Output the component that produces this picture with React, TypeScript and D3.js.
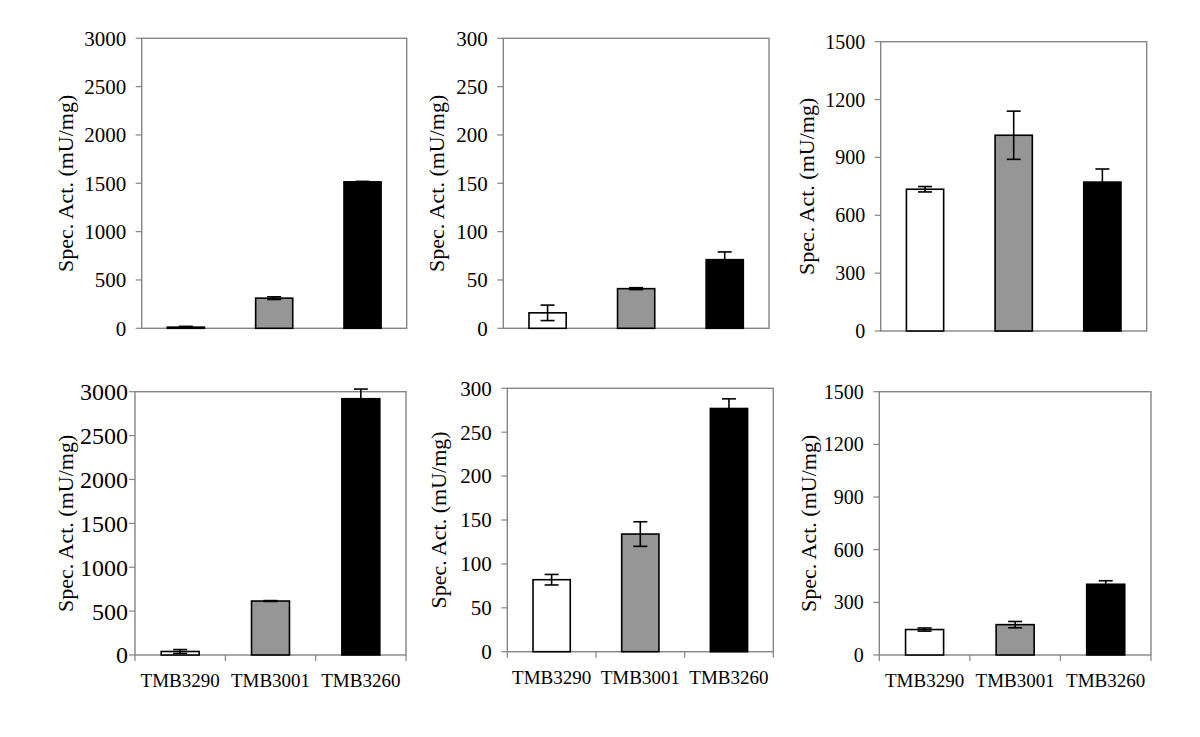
import React from "react";
import * as d3 from "d3";

const strains = ["TMB3290", "TMB3001", "TMB3260"];

const p1Values = [12, 312, 1515];
const p1Errors = [8, 14, 5];
const p2Values = [16, 41, 71];
const p2Errors = [8, 1, 8];
const p3Values = [735, 1015, 772];
const p3Errors = [14, 125, 68];
const p4Values = [40, 615, 2920];
const p4Errors = [22, 5, 110];
const p5Values = [82, 134, 277];
const p5Errors = [6, 14, 11];
const p6Values = [145, 173, 403];
const p6Errors = [9, 18, 20];

const ticks3000 = [0, 500, 1000, 1500, 2000, 2500, 3000];
const ticks300 = [0, 50, 100, 150, 200, 250, 300];
const ticks1500 = [0, 300, 600, 900, 1200, 1500];

const yTitle = "Spec. Act. (mU/mg)";

const barFills = ["#ffffff", "#969696", "#000000"];
const FONT = "'Liberation Serif', 'Times New Roman', 'DejaVu Serif', serif";

type PanelSpec = {
  values: number[];
  errors: number[];
  ticks: number[];
  left: number;
  right: number;
  top: number;
  bottom: number;
  tickFont: number;
  titleX: number;
  showX: boolean;
  labelY: number;
};

const panels: PanelSpec[] = [
  { values: p1Values, errors: p1Errors, ticks: ticks3000, left: 141.7, right: 406.7, top: 38.3, bottom: 328.3, tickFont: 21, titleX: 65, showX: false, labelY: 0 },
  { values: p2Values, errors: p2Errors, ticks: ticks300, left: 503.3, right: 769, top: 38.3, bottom: 328.3, tickFont: 21, titleX: 436, showX: false, labelY: 0 },
  { values: p3Values, errors: p3Errors, ticks: ticks1500, left: 880.7, right: 1146.7, top: 41.7, bottom: 331, tickFont: 20, titleX: 806, showX: false, labelY: 0 },
  { values: p4Values, errors: p4Errors, ticks: ticks3000, left: 135, right: 406, top: 391.7, bottom: 655, tickFont: 24, titleX: 65, showX: true, labelY: 687 },
  { values: p5Values, errors: p5Errors, ticks: ticks300, left: 507.3, right: 773.3, top: 388.3, bottom: 651.7, tickFont: 21, titleX: 438, showX: true, labelY: 684 },
  { values: p6Values, errors: p6Errors, ticks: ticks1500, left: 879.3, right: 1151, top: 391.7, bottom: 655, tickFont: 20, titleX: 808, showX: true, labelY: 687 },
];

function Panel({ p }: { p: PanelSpec }) {
  const x = d3
    .scaleBand<string>()
    .domain(strains)
    .range([p.left, p.right])
    .paddingInner(0.58)
    .paddingOuter(0.29);
  const y = d3
    .scaleLinear()
    .domain([0, p.ticks[p.ticks.length - 1]])
    .range([p.bottom, p.top]);
  const step = (p.right - p.left) / strains.length;
  const boundaries = d3.range(strains.length + 1).map((i) => p.left + i * step);
  const frame = "#858585";
  const capW = 14;
  const cy = (p.top + p.bottom) / 2;
  const gap = p.tickFont > 22 ? 7 : 15.5;
  return (
    <g>
      <rect x={p.left} y={p.top} width={p.right - p.left} height={p.bottom - p.top} fill="#fff" stroke={frame} strokeWidth={1.4} />
      {p.ticks.map((t) => (
        <g key={t}>
          <line x1={p.left - 6} x2={p.left} y1={y(t)} y2={y(t)} stroke={frame} strokeWidth={1.2} />
          <text x={p.left - gap} y={y(t)} dy="0.35em" textAnchor="end" fontFamily={FONT} fontSize={p.tickFont} fill="#000">
            {t}
          </text>
        </g>
      ))}
      {p.showX &&
        boundaries.map((b, i) => (
          <line key={i} x1={b} x2={b} y1={p.bottom} y2={p.bottom + 6} stroke={frame} strokeWidth={1.2} />
        ))}
      {strains.map((s, i) => {
        const bx = x(s)!;
        const bw = x.bandwidth();
        const v = p.values[i];
        const e = p.errors[i];
        const cx = bx + bw / 2;
        return (
          <g key={s}>
            <rect x={bx} y={y(v)} width={bw} height={p.bottom - y(v)} fill={barFills[i]} stroke="#000" strokeWidth={1.6} />
            <line x1={cx} x2={cx} y1={y(v + e)} y2={y(Math.max(0, v - e))} stroke="#000" strokeWidth={1.6} />
            <line x1={cx - capW / 2} x2={cx + capW / 2} y1={y(v + e)} y2={y(v + e)} stroke="#000" strokeWidth={1.6} />
            <line x1={cx - capW / 2} x2={cx + capW / 2} y1={y(Math.max(0, v - e))} y2={y(Math.max(0, v - e))} stroke="#000" strokeWidth={1.6} />
          </g>
        );
      })}
      {p.showX &&
        strains.map((s) => (
          <text key={s} x={x(s)! + x.bandwidth() / 2} y={p.labelY} textAnchor="middle" fontFamily={FONT} fontSize={19} fill="#000">
            {s}
          </text>
        ))}
      <text
        transform={`translate(${p.titleX},${cy}) rotate(-90)`}
        dy="0.35em"
        textAnchor="middle"
        fontFamily={FONT}
        fontSize={22}
        fill="#000"
      >
        {yTitle}
      </text>
    </g>
  );
}

export default function App() {
  return (
    <svg
      width={1200}
      height={737}
      viewBox="0 0 1200 737"
      style={{ position: "absolute", left: 0, top: 0, background: "#fff" }}
    >
      <rect x={0} y={0} width={1200} height={737} fill="#fff" />
      {panels.map((p, i) => (
        <Panel key={i} p={p} />
      ))}
    </svg>
  );
}
